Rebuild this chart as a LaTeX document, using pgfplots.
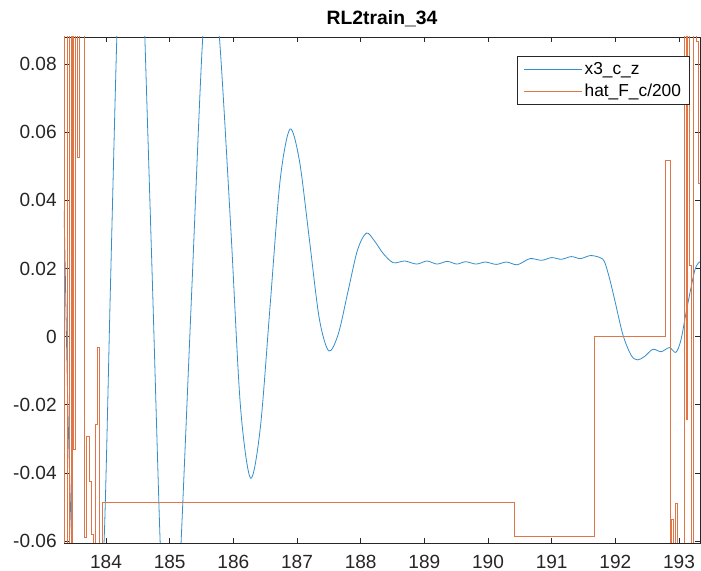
\documentclass[border=0pt]{standalone}
\usepackage{pgfplots}
\pgfplotsset{compat=1.18}
\usepackage{fontspec}
\setmainfont{Liberation Sans}
\definecolor{mblue}{rgb}{0.2,0.558,0.793}
\definecolor{morange}{rgb}{0.88,0.46,0.278}
\definecolor{axcol}{rgb}{0.15,0.15,0.15}
\begin{document}
\begin{tikzpicture}
\path[use as bounding box] (0pt,0pt) rectangle (525.75pt,428.25pt);
\begin{axis}[
  at={(48pt,21pt)}, anchor=south west,
  scale only axis, width=477pt, height=379.5pt,
  xmin=183.34, xmax=193.33, ymin=-0.0605, ymax=0.0879,
  scaled y ticks=false, scaled x ticks=false,
  xtick={184,185,186,187,188,189,190,191,192,193},
  xticklabels={184,185,186,187,188,189,190,191,192,193},
  ytick={-0.06,-0.04,-0.02,0,0.02,0.04,0.06,0.08},
  yticklabels={-0.06,-0.04,-0.02,0,0.02,0.04,0.06,0.08},
  tick align=inside, major tick length=3.75pt,
  axis line style={axcol, line width=0.6pt},
  tick style={axcol, line width=0.6pt},
  ticklabel style={font=\fontsize{14.3}{16}\selectfont, text=axcol},
  xticklabel style={yshift=-5.5pt},
  yticklabel style={xshift=-2pt},
  title={RL2train\_34},
  title style={at={(0.5,1)}, anchor=base, yshift=3pt, font=\bfseries\fontsize{14.5}{17}\selectfont, text=black},
  legend style={at={(1,1)}, anchor=north east, xshift=-7.5pt, yshift=-14.5pt, draw=axcol, fill=white, line width=0.5pt, font=\fontsize{13}{15}\selectfont, inner xsep=4.5pt, inner ysep=2.5pt, row sep=1.5pt},
  legend cell align=left,
  clip=true,
]
\addplot[color=mblue, line width=0.6pt, smooth, tension=0.5, forget plot] coordinates {
(183.34,0.037) (183.355,0.024) (183.40,-0.02) (183.46,-0.06) (183.55,-0.095)
(183.72,-0.12) (183.85,-0.095) (183.97,-0.06) (184.07,0.015) (184.17,0.088)
(184.28,0.15) (184.40,0.18) (184.51,0.15) (184.61,0.088) (184.73,0.015)
(184.85,-0.06) (184.93,-0.09) (185.02,-0.102) (185.10,-0.09) (185.18,-0.06)
(185.35,0.015) (185.52,0.088) (185.645,0.105) (185.78,0.088) (185.96,0.0318)
(186.11,-0.020) (186.27,-0.0415) (186.425,-0.0265) (186.58,0.0097) (186.735,0.0459)
(186.89,0.0609) (187.04,0.0514) (187.195,0.0284) (187.35,0.0053) (187.50,-0.0042)
(187.65,0.0009) (187.80,0.0132) (187.95,0.0254) (188.09,0.0304) (188.22,0.028)
(188.35,0.0245) (188.51,0.0217) (188.69,0.0222) (188.88,0.0213) (189.04,0.0222)
(189.20,0.0213) (189.36,0.0221) (189.51,0.0213) (189.65,0.0220) (189.81,0.0213)
(189.96,0.0219) (190.13,0.0212) (190.29,0.0219) (190.46,0.0211) (190.66,0.0229)
(190.84,0.0224) (191.00,0.0232) (191.15,0.0227) (191.31,0.0235) (191.45,0.0229)
(191.61,0.0238) (191.76,0.0232) (191.83,0.0220) (191.91,0.017) (191.99,0.0108)
(192.12,0.0005) (192.25,-0.0055) (192.35,-0.0068) (192.46,-0.0058) (192.59,-0.0037)
(192.72,-0.0044) (192.85,-0.0032) (192.95,-0.0046) (193.03,-0.001) (193.12,0.0079)
(193.25,0.0196) (193.33,0.022)
};
\addplot[color=morange, line width=0.6pt, const plot, forget plot] coordinates {
(183.30,-0.3) (183.341,0.3) (183.393,-0.3) (183.424,0.3) (183.462,-0.3)
(183.475,0.3) (183.487,-0.033) (183.525,0.3) (183.551,0.0525) (183.581,0.3)
(183.655,-0.059) (183.686,-0.0291) (183.733,-0.0425) (183.765,-0.058) (183.80,-0.3)
(183.838,-0.0256) (183.863,-0.0032) (183.895,-0.3) (183.942,-0.0486) (190.42,-0.0586)
(191.67,0.0) (192.79,0.0518) (192.86,-0.3) (192.875,-0.0537) (192.905,-0.3)
(192.94,-0.049) (192.97,-0.3) (193.085,0.3) (193.11,-0.0244) (193.135,0.3)
(193.17,0.021) (193.20,-0.3) (193.22,0.3) (193.27,0.0866) (193.305,0.045)
(193.34,0.045)
};
\addlegendimage{legend image code/.code={\draw[color=mblue, line width=0.6pt] (0pt,0pt) -- (43.5pt,0pt);}}
\addlegendentry{x3\_c\_z}
\addlegendimage{legend image code/.code={\draw[color=morange, line width=0.6pt] (0pt,0pt) -- (43.5pt,0pt);}}
\addlegendentry{hat\_F\_c/200}
\end{axis}
\end{tikzpicture}
\end{document}
